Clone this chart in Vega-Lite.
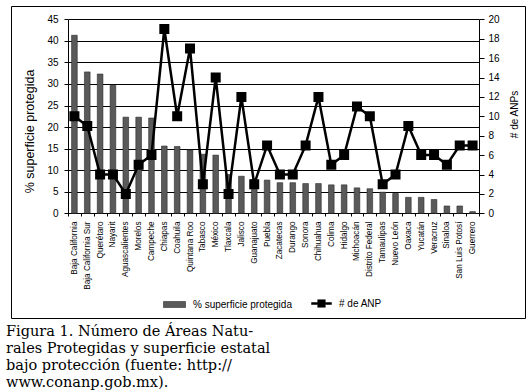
{
  "$schema": "https://vega.github.io/schema/vega-lite/v6.json",
  "width": 514,
  "height": 312,
  "padding": {"left": 6, "top": 6, "right": 3, "bottom": 0},
  "background": "white",
  "config": {
    "view": {"stroke": "black", "strokeWidth": 1},
    "font": "Liberation Sans",
    "axis": {"labelColor": "black", "titleColor": "black", "domainColor": "black", "tickColor": "black", "labelFont": "Liberation Sans", "titleFont": "Liberation Sans", "titleFontWeight": "normal"},
    "legend": {"padding": 0, "labelFont": "Liberation Sans", "labelFontSize": 10, "labelColor": "black", "labelOffset": 7}
  },
  "title": {
    "text": ["Figura 1. Número de Áreas Natu-", "rales Protegidas y superficie estatal", "bajo  protección  (fuente:  http://", "www.conanp.gob.mx)."],
    "orient": "bottom",
    "anchor": "start",
    "font": "DejaVu Serif",
    "fontSize": 14.5,
    "fontWeight": "normal",
    "lineHeight": 17,
    "color": "black",
    "offset": 7
  },
  "data": {
    "values": [
      {"estado": "Baja California", "pct": 41.3, "anp": 10},
      {"estado": "Baja California Sur", "pct": 32.8, "anp": 9},
      {"estado": "Querétaro", "pct": 32.3, "anp": 4},
      {"estado": "Nayarit", "pct": 29.7, "anp": 4},
      {"estado": "Aguascalientes", "pct": 22.3, "anp": 2},
      {"estado": "Morelos", "pct": 22.3, "anp": 5},
      {"estado": "Campeche", "pct": 22.1, "anp": 6},
      {"estado": "Chiapas", "pct": 15.6, "anp": 19},
      {"estado": "Coahuila", "pct": 15.5, "anp": 10},
      {"estado": "Quintana Roo", "pct": 14.7, "anp": 17},
      {"estado": "Tabasco", "pct": 13.7, "anp": 3},
      {"estado": "México", "pct": 13.5, "anp": 14},
      {"estado": "Tlaxcala", "pct": 9.0, "anp": 2},
      {"estado": "Jalisco", "pct": 8.6, "anp": 12},
      {"estado": "Guanajuato", "pct": 7.8, "anp": 3},
      {"estado": "Puebla", "pct": 7.7, "anp": 7},
      {"estado": "Zacatecas", "pct": 7.1, "anp": 4},
      {"estado": "Durango", "pct": 7.1, "anp": 4},
      {"estado": "Sonora", "pct": 6.9, "anp": 7},
      {"estado": "Chihuahua", "pct": 6.9, "anp": 12},
      {"estado": "Colima", "pct": 6.6, "anp": 5},
      {"estado": "Hidalgo", "pct": 6.6, "anp": 6},
      {"estado": "Michoacán", "pct": 5.9, "anp": 11},
      {"estado": "Distrito Federal", "pct": 5.7, "anp": 10},
      {"estado": "Tamaulipas", "pct": 4.9, "anp": 3},
      {"estado": "Nuevo León", "pct": 4.6, "anp": 4},
      {"estado": "Oaxaca", "pct": 3.7, "anp": 9},
      {"estado": "Yucatán", "pct": 3.7, "anp": 6},
      {"estado": "Veracruz", "pct": 3.2, "anp": 6},
      {"estado": "Sinaloa", "pct": 1.7, "anp": 5},
      {"estado": "San Luis Potosí", "pct": 1.7, "anp": 7},
      {"estado": "Guerrero", "pct": 0.4, "anp": 7}
    ]
  },
  "encoding": {
    "x": {
      "field": "estado",
      "type": "nominal",
      "sort": null,
      "scale": {"range": [57, 468], "paddingInner": 0, "paddingOuter": 0},
      "axis": {
        "title": null,
        "offset": -105,
        "labelAngle": -90,
        "labelFontSize": 8.2,
        "labelPadding": 5,
        "tickSize": 3,
        "tickBand": "extent",
        "grid": false,
        "labelLimit": 200
      }
    }
  },
  "layer": [
    {
      "mark": {"type": "bar", "width": {"band": 0.44}, "stroke": "#2a2a2a", "strokeWidth": 0.6},
      "encoding": {
        "y": {
          "field": "pct",
          "type": "quantitative",
          "scale": {"domain": [0, 45], "range": [207.3, 13.3], "nice": false},
          "axis": {
            "title": "% superficie protegida",
            "titleFontSize": 12.5,
            "titleAngle": 270,
            "titleAlign": "center",
            "titleBaseline": "middle",
            "titleX": -39,
            "titleY": 125,
            "offset": -57,
            "values": [0, 5, 10, 15, 20, 25, 30, 35, 40, 45],
            "labelFontSize": 10,
            "labelPadding": 6,
            "tickSize": 4,
            "grid": true,
            "gridColor": "black",
            "gridWidth": 1,
            "gridOpacity": 1
          }
        },
        "fill": {
          "datum": "% superficie protegida",
          "type": "nominal",
          "scale": {"domain": ["% superficie protegida"], "range": ["#5a5a5a"]},
          "legend": {
            "title": null,
            "orient": "none",
            "legendX": 152,
            "legendY": 287,
            "symbolType": "M-1,-0.27H1V0.27H-1Z",
            "symbolSize": 484,
            "symbolStrokeColor": "#2a2a2a",
            "symbolStrokeWidth": 0.6,
            "symbolOpacity": 1
          }
        }
      }
    },
    {
      "mark": {"type": "line", "strokeWidth": 2.5, "point": {"shape": "square", "size": 64, "filled": true, "color": "black", "opacity": 1}},
      "encoding": {
        "y": {
          "field": "anp",
          "type": "quantitative",
          "scale": {"domain": [0, 20], "range": [207.3, 13.3], "nice": false},
          "axis": {
            "orient": "right",
            "title": "# de ANPs",
            "titleFontSize": 10,
            "titleAngle": 270,
            "titleAlign": "center",
            "titleBaseline": "middle",
            "titleX": 35,
            "titleY": 108,
            "offset": -46,
            "values": [0, 2, 4, 6, 8, 10, 12, 14, 16, 18, 20],
            "labelFontSize": 10,
            "labelPadding": 4,
            "tickSize": 5,
            "grid": false
          }
        },
        "stroke": {
          "datum": "# de ANP",
          "type": "nominal",
          "scale": {"domain": ["# de ANP"], "range": ["black"]},
          "legend": {
            "title": null,
            "orient": "none",
            "legendX": 300,
            "legendY": 287,
            "symbolType": "M-1,-0.1H-0.38V-0.38H0.38V-0.1H1V0.1H0.38V0.38H-0.38V0.1H-1Z",
            "symbolSize": 400,
            "symbolFillColor": "black",
            "symbolStrokeColor": "black",
            "symbolStrokeWidth": 0.5,
            "symbolOpacity": 1,
            "encode": {"symbols": {"update": {"fill": {"value": "black"}, "fillOpacity": {"value": 1}, "strokeWidth": {"value": 0.5}}}}
          }
        }
      }
    }
  ],
  "resolve": {"scale": {"y": "independent"}}
}
